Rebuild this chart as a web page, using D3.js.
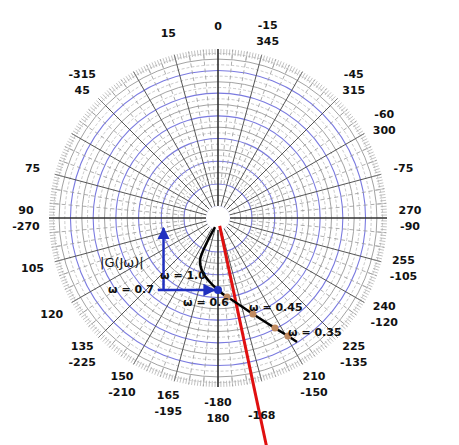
<!DOCTYPE html>
<html><head><meta charset="utf-8">
<script src="https://cdn.jsdelivr.net/npm/d3@7"></script>
<style>body{margin:0;background:#fff}text{font-family:"DejaVu Sans",sans-serif;font-size:11px;fill:#111}</style>
</head><body><svg id="c" width="459" height="445"></svg>
<script>
// polar chart data (real / imag in grid units)
var curveRe = [-0.13,-0.45,-0.79,-0.70,-0.44,0,0.40,0.62,1.54,2.51,3.08,3.48];
var curveIm = [-0.40,-1.0,-1.85,-2.35,-2.73,-3.17,-3.48,-3.61,-4.23,-4.85,-5.20,-5.46];
var dotRe = [0.40,1.54,2.51,3.08];
var dotIm = [-3.48,-4.23,-4.85,-5.20];
var angLabels = [[0,["0"]],[15,["15"]],[-15,["-15","345"]],[45,["-315","45"]],[-45,["-45","315"]],
  [-60,["-60","300"]],[75,["75"]],[-75,["-75"]],[90,["90","-270"]],[-90,["270","-90"]],
  [105,["105"]],[-105,["255","-105"]],[120,["120"]],[-120,["240","-120"]],[135,["135","-225"]],
  [-135,["225","-135"]],[150,["150","-210"]],[-150,["210","-150"]],[165,["165","-195"]],[180,["-180","180"]]];
var redAngle = -168;

var cx = 218, cy = 218, R = 169, unit = 22.7;
var svg = d3.select("#c");
var x = d3.scaleLinear().domain([0,1]).range([cx,cx+unit]);
var y = d3.scaleLinear().domain([0,1]).range([cy,cy-unit]);
var rs = d3.scaleLinear().domain([0,1]).range([0,unit]);
function pt(a,r){ var t=a*Math.PI/180; return [cx - r*Math.sin(t), cy - r*Math.cos(t)]; }

var g = svg.append("g");
// circles: blue at half units, grey at whole, dashed at quarters
d3.range(0.25,7.4,0.25).forEach(function(r){
  g.append("circle").attr("cx",cx).attr("cy",cy).attr("r",rs(r)).attr("fill","none")
   .attr("stroke", (r%1===0.5)?"#7a7ae0":(r%1===0?"#8a8a8a":"#bbb"))
   .attr("stroke-width",(r%1===0.5)?1.1:0.8)
   .attr("stroke-dasharray",(r%1===0.25||r%1===0.75)?"3,2":null);
});
// spokes
d3.range(0,360,5).forEach(function(a){
  var major = a%15===0;
  var p1=pt(a, major?12:34), p2=pt(a,R);
  g.append("line").attr("x1",p1[0]).attr("y1",p1[1]).attr("x2",p2[0]).attr("y2",p2[1])
   .attr("stroke",major?"#555":"#999").attr("stroke-width",major?1:0.8)
   .attr("stroke-dasharray",major?null:"4,3");
});
// rim ticks
d3.range(0,360,1).forEach(function(a){
  var p1=pt(a,R-(a%5===0?10:6)), p2=pt(a,R);
  g.append("line").attr("x1",p1[0]).attr("y1",p1[1]).attr("x2",p2[0]).attr("y2",p2[1])
   .attr("stroke","#999").attr("stroke-width",0.6);
});
svg.append("circle").attr("cx",cx).attr("cy",cy).attr("r",12).attr("fill","#fff");
// axes
[0,90,180,270].forEach(function(a){
  var p1=pt(a,12), p2=pt(a,R);
  svg.append("line").attr("x1",p1[0]).attr("y1",p1[1]).attr("x2",p2[0]).attr("y2",p2[1]).attr("stroke","#222").attr("stroke-width",1.2);
});
// angle labels
angLabels.forEach(function(d){
  var p=pt(d[0],192), n=d[1].length;
  d[1].forEach(function(s,i){
    svg.append("text").attr("x",p[0]).attr("y",p[1]+4+(i-(n-1)/2)*16).attr("text-anchor","middle")
      .style("font-weight","bold").text(s);
  });
});
// red line
var r1=pt(redAngle,8), r2=pt(redAngle,235);
svg.append("line").attr("x1",r1[0]).attr("y1",r1[1]).attr("x2",r2[0]).attr("y2",r2[1]).attr("stroke","#e01010").attr("stroke-width",3);
// black curve
var line = d3.line().curve(d3.curveCatmullRom).x(function(d){return x(d[0]);}).y(function(d){return y(d[1]);});
svg.append("path").datum(curveRe.map(function(v,i){return [v,curveIm[i]];}))
  .attr("d",line).attr("fill","none").attr("stroke","#000").attr("stroke-width",2.5);
dotRe.forEach(function(v,i){
  svg.append("circle").attr("cx",x(v)).attr("cy",y(dotIm[i])).attr("r",3.5).attr("fill","#c08a60");
});
// blue arrows
var defs=svg.append("defs");
defs.append("marker").attr("id","ah").attr("viewBox","0 0 10 10").attr("refX",9).attr("refY",5)
  .attr("markerWidth",5).attr("markerHeight",5).attr("orient","auto")
  .append("path").attr("d","M0,0L10,5L0,10z").attr("fill","#2030c0");
svg.append("line").attr("x1",x(-2.4)).attr("y1",y(-3.17)).attr("x2",x(-2.4)).attr("y2",y(-0.45))
  .attr("stroke","#2030c0").attr("stroke-width",2.5).attr("marker-end","url(#ah)");
svg.append("line").attr("x1",x(-2.65)).attr("y1",y(-3.17)).attr("x2",x(-0.15)).attr("y2",y(-3.17))
  .attr("stroke","#2030c0").attr("stroke-width",2.5).attr("marker-end","url(#ah)");
svg.append("circle").attr("cx",x(0)).attr("cy",y(-3.17)).attr("r",4).attr("fill","#2030c0");
// text annotations
var ann=[["|G(Jω)|",100,267,13],["ω = 1.0",160,279,11],["ω = 0.7",108,293,11],["ω = 0.6",183,306,11],
  ["ω = 0.45",249,311,11],["ω = 0.35",288,336,11],["-168",248,419,11]];
ann.forEach(function(a){
  svg.append("text").attr("x",a[1]).attr("y",a[2]).style("font-size",a[3]+"px")
    .style("font-weight",a[3]===13?"normal":"bold").text(a[0]);
});
</script></body></html>
